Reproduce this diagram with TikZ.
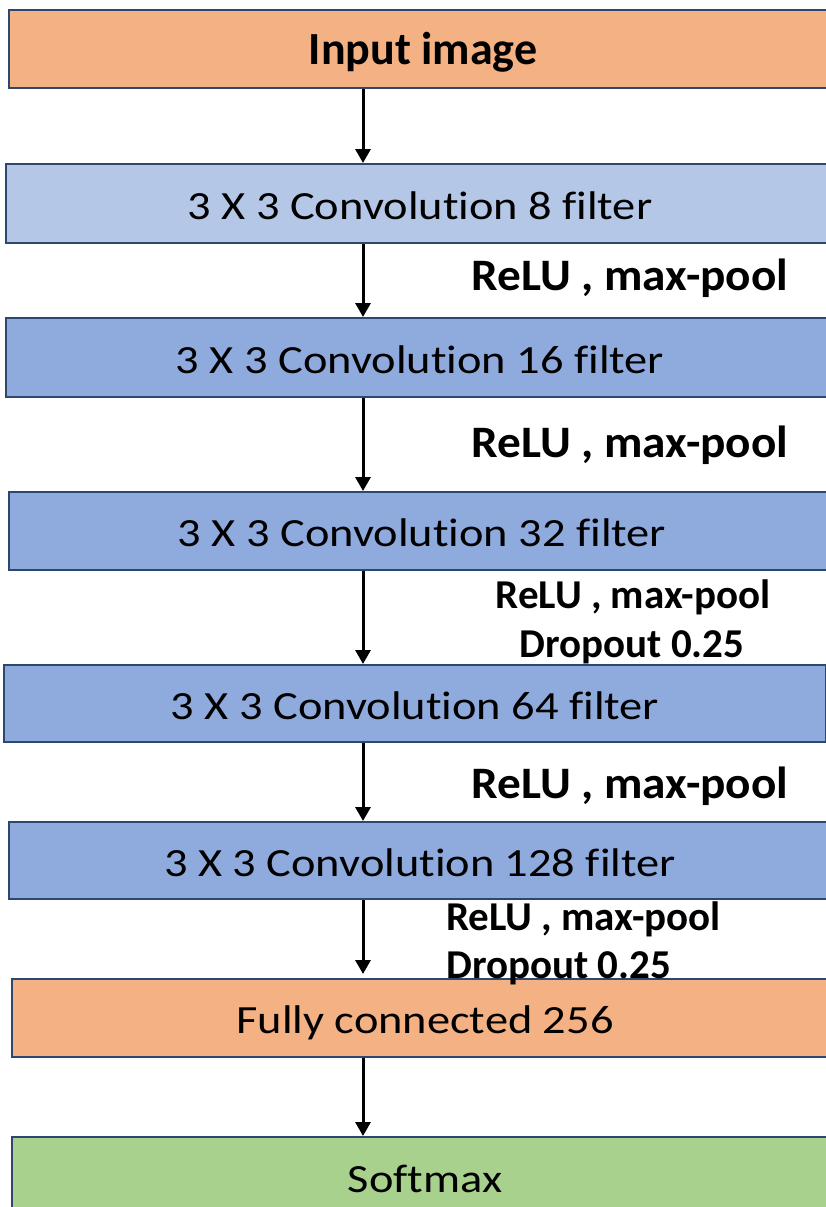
\documentclass[tikz,border=0pt]{standalone}
\usepackage{fontspec}
\setmainfont{Carlito}[Ligatures=NoCommon]
\newfontfamily\boxfont[FakeStretch=1.16,Ligatures=NoCommon]{Carlito}
\newfontfamily\labelfont[FakeStretch=1.05,Ligatures=NoCommon]{Carlito}
\usetikzlibrary{arrows.meta}
\definecolor{orangefill}{HTML}{F4B183}
\definecolor{lightblue}{HTML}{B4C7E7}
\definecolor{midblue}{HTML}{8FAADC}
\definecolor{greenfill}{HTML}{A9D18E}
\definecolor{edgeblue}{HTML}{2E4770}
\begin{document}
\begin{tikzpicture}[x=1pt,y=-1pt,
  layerbox/.style={draw=edgeblue, line width=2pt, inner sep=0pt,
    text height=31pt, text depth=0pt, font=\boxfont\fontsize{40}{44}\selectfont},
  flowarrow/.style={line width=3pt, -{Triangle[length=14pt,width=15pt]}},
  oplabel/.style={font=\labelfont\bfseries\fontsize{45}{48}\selectfont, anchor=base, inner sep=0pt},
  smalllabel/.style={font=\bfseries\fontsize{41}{44}\selectfont, anchor=base, inner sep=0pt}]
\useasboundingbox (0,0) rectangle (826,1207);
\clip (0,0) rectangle (826,1207);
% boxes
\node[layerbox, fill=orangefill, minimum width=828pt, minimum height=78pt,
  font=\bfseries\fontsize{46}{48}\selectfont] (inp) at (423,49) {Input image};
\node[layerbox, fill=lightblue, minimum width=828pt, minimum height=79pt] (c8) at (420,203.5) {3 X 3 Convolution 8 filter};
\node[layerbox, fill=midblue, minimum width=828pt, minimum height=79pt] (c16) at (420,357.5) {3 X 3 Convolution 16 filter};
\node[layerbox, fill=midblue, minimum width=826pt, minimum height=78pt] (c32) at (422,531) {3 X 3 Convolution 32 filter};
\node[layerbox, fill=midblue, minimum width=822pt, minimum height=77pt] (c64) at (415,703.5) {3 X 3 Convolution 64 filter};
\node[layerbox, fill=midblue, minimum width=822pt, minimum height=77pt] (c128) at (420,860.5) {3 X 3 Convolution 128 filter};
\node[layerbox, fill=orangefill, minimum width=826pt, minimum height=78pt] (fc) at (425,1018) {Fully connected 256};
\node[layerbox, fill=greenfill, minimum width=826pt, minimum height=79pt] (sm) at (425,1176.5) {Softmax};
% arrows
\coordinate (ax) at (363,0);
\draw[flowarrow] (inp.south -| ax) -- (c8.north -| ax);
\draw[flowarrow] (c8.south -| ax) -- (c16.north -| ax);
\draw[flowarrow] (c16.south -| ax) -- (c32.north -| ax);
\draw[flowarrow] (c32.south -| ax) -- (c64.north -| ax);
\draw[flowarrow] (c64.south -| ax) -- (c128.north -| ax);
\draw[flowarrow] (c128.south -| ax) -- ([yshift=4pt]fc.north -| ax);
\draw[flowarrow] (fc.south -| ax) -- (sm.north -| ax);
% labels
\node[oplabel] (l1) at (630,290) {ReLU , max-pool};
\node[oplabel] (l2) at (630,457) {ReLU , max-pool};
\node[smalllabel] (l3a) at (633,608) {ReLU , max-pool};
\node[smalllabel] (l3b) at (632,657) {Dropout 0.25};
\node[oplabel] (l4) at (630,798) {ReLU , max-pool};
\node[smalllabel, anchor=base west] (l5a) at (446,930) {ReLU , max-pool};
\node[smalllabel, anchor=base west] (l5b) at (446,978) {Dropout 0.25};
\end{tikzpicture}
\end{document}
